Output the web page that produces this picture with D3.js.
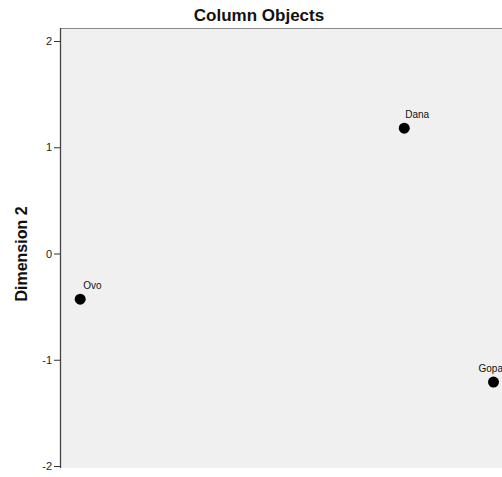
<!DOCTYPE html>
<html><head><meta charset="utf-8">
<script src="https://cdn.jsdelivr.net/npm/d3@7"></script>
<style>body{margin:0;background:#fff}svg{display:block;font-family:Arial,"Liberation Sans",sans-serif}</style>
</head><body><div id="c"></div>
<script>
const names = ["Dana", "Ovo", "Gopa"];
const dim1 = [1.24, -1.81, 2.08];
const dim2 = [1.18, -0.43, -1.21];
const yTicks = [-2, -1, 0, 1, 2];

const W = 502, H = 477;
const svg = d3.select("#c").append("svg").attr("width", W).attr("height", H);
const mLeft = 60, mTop = 28, mBottom = 468;
const y = d3.scaleLinear().domain([-2, 2]).range([466, 41]);
const x = d3.scaleLinear().domain([-2, 2]).range([60, 485]);

svg.append("rect").attr("x", mLeft).attr("y", mTop).attr("width", W - mLeft + 10).attr("height", mBottom - mTop).attr("fill", "#f0f0f0");
svg.append("line").attr("x1", mLeft).attr("x2", W).attr("y1", mTop + 0.5).attr("y2", mTop + 0.5).attr("stroke", "#888").attr("stroke-width", 1);

const ax = svg.append("g").attr("transform", `translate(${mLeft},0)`)
  .call(d3.axisLeft(y).tickValues(yTicks).tickSize(6).tickPadding(2).tickFormat(d => String(d)));
ax.select(".domain").remove();
ax.selectAll(".tick line").attr("stroke", "#333");
ax.selectAll(".tick text").attr("font-size", 11).attr("fill", "#222").attr("font-family", "Arial, 'Liberation Sans', sans-serif");
svg.append("line").attr("x1", mLeft + 0.5).attr("x2", mLeft + 0.5).attr("y1", mTop).attr("y2", mBottom).attr("stroke", "#444").attr("stroke-width", 1.3);

svg.append("text").attr("x", 259).attr("y", 21).attr("text-anchor", "middle").attr("font-size", 17).attr("font-weight", "bold").attr("fill", "#111").text("Column Objects");
svg.append("text").attr("transform", "translate(27,254) rotate(-90)").attr("text-anchor", "middle").attr("font-size", 16).attr("font-weight", "bold").attr("fill", "#111").text("Dimension 2");

const data = names.map((n, i) => ({ n, x: dim1[i], y: dim2[i] }));
const g = svg.append("g");
g.selectAll("circle").data(data).join("circle")
  .attr("cx", d => x(d.x)).attr("cy", d => y(d.y)).attr("r", 5.5).attr("fill", "#000");
g.selectAll("text").data(data).join("text")
  .attr("x", d => x(d.x) > W - 30 ? x(d.x) - 15 : x(d.x) + 1 + (d.n.length < 4 ? 2 : 0))
  .attr("y", d => y(d.y) - 10)
  .attr("font-size", 10).attr("fill", "#111").text(d => d.n);
</script></body></html>
